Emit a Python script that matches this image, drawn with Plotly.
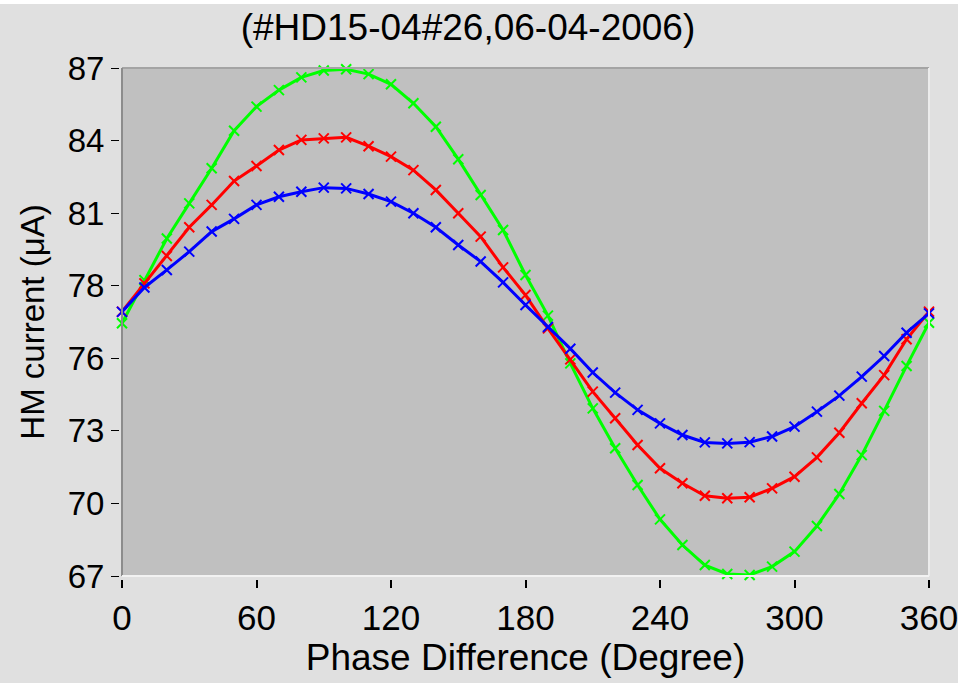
import plotly.graph_objects as go

# ---- data ----
phase_deg = [0, 10, 20, 30, 40, 50, 60, 70, 80, 90, 100, 110, 120, 130, 140, 150, 160, 170, 180,
             190, 200, 210, 220, 230, 240, 250, 260, 270, 280, 290, 300, 310, 320, 330, 340, 350, 360]

blue_current = [77.40, 78.36, 79.05, 79.77, 80.56, 81.06, 81.61, 81.93, 82.13, 82.29, 82.26, 82.04,
                81.74, 81.28, 80.73, 80.03, 79.38, 78.56, 77.67, 76.80, 75.95, 75.01, 74.22, 73.54,
                73.01, 72.55, 72.26, 72.22, 72.27, 72.49, 72.88, 73.47, 74.10, 74.85, 75.66, 76.58, 77.34]

red_current = [77.41, 78.52, 79.60, 80.73, 81.61, 82.55, 83.14, 83.77, 84.17, 84.23, 84.27, 83.92,
               83.51, 82.98, 82.20, 81.28, 80.36, 79.15, 78.06, 76.75, 75.53, 74.26, 73.21, 72.16,
               71.24, 70.65, 70.16, 70.06, 70.10, 70.45, 70.91, 71.67, 72.64, 73.80, 74.91, 76.32, 77.41]

green_current = [76.95, 78.65, 80.29, 81.67, 83.05, 84.53, 85.48, 86.13, 86.63, 86.90, 86.95, 86.76,
                 86.36, 85.61, 84.69, 83.41, 82.00, 80.62, 78.85, 77.25, 75.37, 73.60, 72.03, 70.58,
                 69.23, 68.22, 67.43, 67.08, 67.04, 67.37, 67.96, 68.97, 70.23, 71.76, 73.50, 75.27, 76.97]

x_ticks = [0, 60, 120, 180, 240, 300, 360]
y_min, y_max = 67, 87
y_tick_labels = ["67", "70", "73", "76", "78", "81", "84", "87"]

title_text = "(#HD15-04#26,06-04-2006)"
x_title = "Phase Difference (Degree)"
y_title = "HM current (μA)"

# ---- figure ----
W, H = 958, 683
ML, MR, MT, MB = 119, 29, 68, 104
pw = W - ML - MR
ph = H - MT - MB
dx = 3 / pw
dy = 3 / ph

FONT = "Liberation Sans, Arial, sans-serif"

fig = go.Figure()
for ys, col in [(green_current, "#00ff00"), (red_current, "#ff0000"), (blue_current, "#0000ff")]:
    fig.add_trace(go.Scatter(
        x=phase_deg, y=ys, mode="lines+markers",
        line=dict(color=col, width=3),
        marker=dict(symbol="x-thin", size=10, line=dict(color=col, width=2)),
        showlegend=False, cliponaxis=False, hoverinfo="skip",
    ))

n = len(y_tick_labels) - 1
y_tickvals = [y_min + k * (y_max - y_min) / n for k in range(n + 1)]

fig.update_layout(
    width=W, height=H,
    margin=dict(l=ML, r=MR, t=MT, b=MB, autoexpand=False),
    paper_bgcolor="#e0e0e0",
    plot_bgcolor="#c0c0c0",
    font=dict(family=FONT, color="black", size=33),
    title=dict(text=title_text, x=468 / W, xref="container", xanchor="center",
               y=1 - 27 / H, yref="container", yanchor="middle",
               font=dict(size=37, family=FONT, color="black")),
    xaxis=dict(domain=[dx, 1], anchor="free", position=0, range=[0, 360],
               tickvals=x_ticks, ticktext=[str(v) for v in x_ticks],
               ticks="outside", ticklen=8, tickwidth=1.5, tickcolor="black",
               showgrid=False, zeroline=False, showline=False, automargin=False,
               ticklabeloverflow="allow",
               tickfont=dict(size=35, family=FONT),
               title=dict(text=x_title, font=dict(size=37, family=FONT), standoff=6)),
    yaxis=dict(domain=[dy, 1], anchor="free", position=0, range=[y_min, y_max],
               tickvals=y_tickvals, ticktext=y_tick_labels,
               ticks="outside", ticklen=8, tickwidth=1.2, tickcolor="black",
               showgrid=False, zeroline=False, showline=False, automargin=False,
               ticklabeloverflow="allow",
               tickfont=dict(size=33, family=FONT),
               title=dict(text=y_title, font=dict(size=33, family=FONT), standoff=12)),
)

# thin white strip along the very top of the image
fig.add_shape(type="rect", xref="paper", yref="paper",
              x0=-ML / pw - 0.01, x1=1 + MR / pw + 0.01,
              y0=1 + (MT - 4) / ph, y1=1 + MT / ph + 0.01,
              fillcolor="white", line=dict(width=0), layer="below")

# inset frame around the plot area
fig.add_shape(type="line", xref="paper", yref="paper", x0=dx, x1=1, y0=1, y1=1,
              line=dict(color="#a4a4a4", width=2), layer="above")
fig.add_shape(type="line", xref="paper", yref="paper", x0=dx, x1=dx, y0=dy, y1=1,
              line=dict(color="#8c8c8c", width=2), layer="above")
fig.add_shape(type="line", xref="paper", yref="paper", x0=1, x1=1, y0=dy, y1=1,
              line=dict(color="#ececec", width=2), layer="above")
fig.add_shape(type="line", xref="paper", yref="paper", x0=dx, x1=1, y0=dy, y1=dy,
              line=dict(color="#f2f2f2", width=2), layer="above")

fig.write_html("out.html",
               config={"displayModeBar": False},
               post_script="document.body.style.margin='0px';document.body.style.overflow='hidden';")
